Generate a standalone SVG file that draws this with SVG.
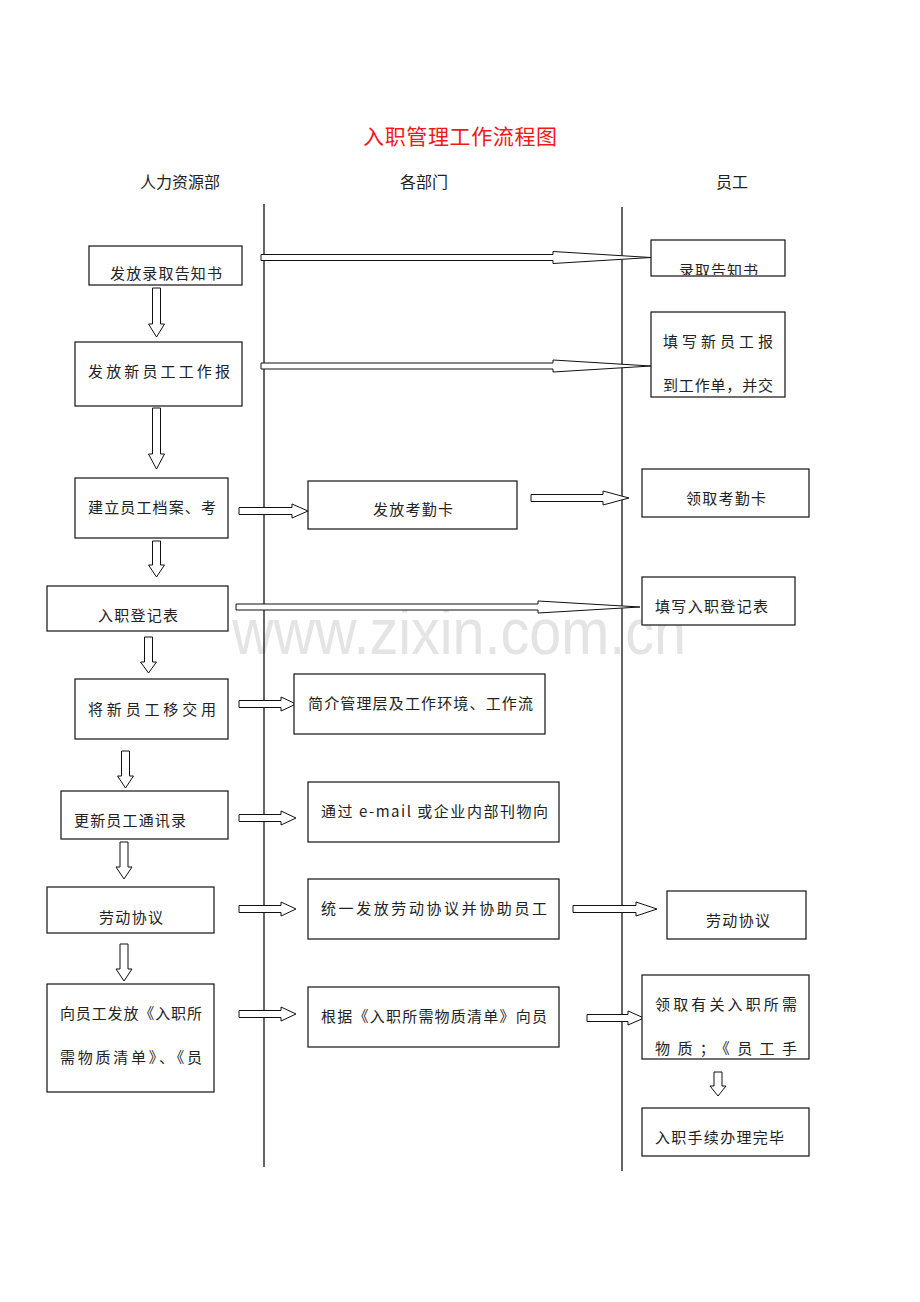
<svg xmlns="http://www.w3.org/2000/svg" width="920" height="1302" viewBox="0 0 920 1302">
<style>
text{font-family:"Noto Sans CJK SC","Liberation Serif",serif;font-size:15px;fill:#222}
.box{fill:#fff;stroke:#111;stroke-width:1.2}
.arr{fill:#fff;stroke:#111;stroke-width:1}
.lane{stroke:#111;stroke-width:1.3}
.title{font-size:21px;fill:#f01818}
.hdr{font-size:16px}
.wm{font-family:"Liberation Sans",Arial,sans-serif;font-size:64px;fill:#e4e4e4}
</style>
<defs>
<clipPath id="c2"><rect x="651" y="240" width="134" height="35"/></clipPath>
</defs>
<rect width="920" height="1302" fill="#fff"/>
<text class="wm" x="232" y="654" textLength="454" lengthAdjust="spacingAndGlyphs">www.zixin.com.cn</text>
<text class="title" x="363" y="144" textLength="194">入职管理工作流程图</text>
<text class="hdr" x="140" y="188" textLength="80">人力资源部</text>
<text class="hdr" x="400" y="188" textLength="48">各部门</text>
<text class="hdr" x="716" y="188" textLength="32">员工</text>
<line class="lane" x1="264" y1="204" x2="264" y2="1167"/>
<line class="lane" x1="622" y1="207" x2="622" y2="1171"/>
<g id="connectors">
<path class="arr" d="M152.5,288H160.5V324H164.5L156.5,337L148.5,324H152.5Z"/>
<path class="arr" d="M152.5,408H160.5V454H164.5L156.5,469L148.5,454H152.5Z"/>
<path class="arr" d="M152.5,541H160.5V565H164.5L156.5,577L148.5,565H152.5Z"/>
<path class="arr" d="M144.5,637H152.5V662H156.5L148.5,673L140.5,662H144.5Z"/>
<path class="arr" d="M121.5,751H129.5V776H133.5L125.5,788L117.5,776H121.5Z"/>
<path class="arr" d="M120,842H128V867H132L124,879L116,867H120Z"/>
<path class="arr" d="M120,944H128V969H132L124,981L116,969H120Z"/>
<path class="arr" d="M714,1072H722V1086H726L718,1096L710,1086H714Z"/>
<path class="arr" d="M261,254.5H553V251.5L651,257.5L553,263.5V260.5H261Z"/>
<path class="arr" d="M261,363H553V360L651,366L553,372V369H261Z"/>
<path class="arr" d="M236,604H538V601L640,607L538,613V610H236Z"/>
<path class="arr" d="M239,507.5H292V504L308,511L292,518V514.5H239Z"/>
<path class="arr" d="M531,494.5H603V491L629,498L603,505V501.5H531Z"/>
<path class="arr" d="M239,700.5H281V697L296,704L281,711V707.5H239Z"/>
<path class="arr" d="M239,814.5H281V811L296,818L281,825V821.5H239Z"/>
<path class="arr" d="M239,905.5H281V902L296,909L281,916V912.5H239Z"/>
<path class="arr" d="M573,905.5H636V902L657,909L636,916V912.5H573Z"/>
<path class="arr" d="M239,1010.5H281V1007L296,1014L281,1021V1017.5H239Z"/>
<path class="arr" d="M587,1014.5H628V1011L644,1018L628,1025V1021.5H587Z"/>
</g>
<g id="n1"><rect class="box" x="89" y="246" width="153" height="39"/><text x="110" y="279" textLength="112">发放录取告知书</text></g>
<g id="n2"><rect class="box" x="651" y="240" width="134" height="36"/><text x="679" y="276" textLength="79" clip-path="url(#c2)">录取告知书</text></g>
<g id="n3"><rect class="box" x="75" y="342" width="167" height="64"/><text x="88" y="377" textLength="142">发放新员工工作报</text></g>
<g id="n4"><rect class="box" x="651" y="312" width="134" height="85"/><text x="663" y="347" textLength="110">填写新员工报</text><text x="663" y="391" textLength="110">到工作单，并交</text></g>
<g id="n5"><rect class="box" x="75" y="478" width="153" height="60"/><text x="88" y="513" textLength="128">建立员工档案、考</text></g>
<g id="n6"><rect class="box" x="308" y="481" width="209" height="48"/><text x="373" y="515" textLength="80">发放考勤卡</text></g>
<g id="n7"><rect class="box" x="642" y="469" width="167" height="48"/><text x="686" y="504" textLength="80">领取考勤卡</text></g>
<g id="n8"><rect class="box" x="47" y="586" width="181" height="45"/><text x="98" y="621" textLength="80">入职登记表</text></g>
<g id="n9"><rect class="box" x="642" y="577" width="153" height="48"/><text x="655" y="612" textLength="113">填写入职登记表</text></g>
<g id="n10"><rect class="box" x="75" y="679" width="153" height="60"/><text x="88" y="715" textLength="128">将新员工移交用</text></g>
<g id="n11"><rect class="box" x="294" y="674" width="251" height="60"/><text x="308" y="709" textLength="225">简介管理层及工作环境、工作流</text></g>
<g id="n12"><rect class="box" x="61" y="791" width="167" height="48"/><text x="74" y="826" textLength="112">更新员工通讯录</text></g>
<g id="n13"><rect class="box" x="308" y="782" width="251" height="60"/><text x="321" y="817" textLength="227">通过 e-mail 或企业内部刊物向</text></g>
<g id="n14"><rect class="box" x="47" y="887" width="167" height="46"/><text x="99" y="923" textLength="64">劳动协议</text></g>
<g id="n15"><rect class="box" x="308" y="879" width="251" height="60"/><text x="321" y="914" textLength="226">统一发放劳动协议并协助员工</text></g>
<g id="n16"><rect class="box" x="667" y="891" width="139" height="48"/><text x="706" y="926" textLength="64">劳动协议</text></g>
<g id="n17"><rect class="box" x="47" y="984" width="167" height="108"/><text x="60" y="1019" textLength="142">向员工发放《入职所</text><text x="60" y="1063" textLength="142">需物质清单》、《员</text></g>
<g id="n18"><rect class="box" x="308" y="987" width="251" height="60"/><text x="321" y="1022" textLength="226">根据《入职所需物质清单》向员</text></g>
<g id="n19"><rect class="box" x="642" y="975" width="167" height="84"/><text x="655" y="1010" textLength="142">领取有关入职所需</text><text x="655" y="1054" textLength="142">物质；《员工手</text></g>
<g id="n20"><rect class="box" x="642" y="1108" width="167" height="48"/><text x="655" y="1143" textLength="129">入职手续办理完毕</text></g>
</svg>
